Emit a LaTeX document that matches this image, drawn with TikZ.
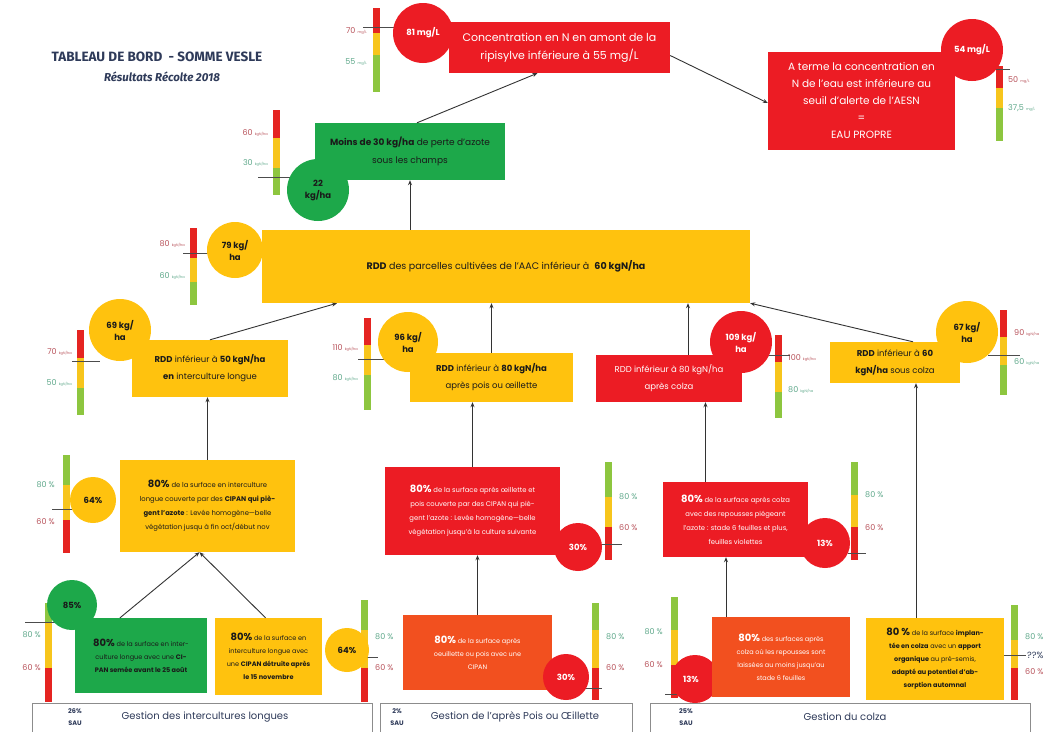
\documentclass[tikz,border=0pt]{standalone}
\usepackage{fontspec}
\setmainfont{Poppins}
\newfontfamily\titlefont{Fira Sans}
\usetikzlibrary{arrows.meta}
\definecolor{bRed}{HTML}{EC1C24}
\definecolor{bYel}{HTML}{FFC20E}
\definecolor{bGrn}{HTML}{1DA84A}
\definecolor{bOra}{HTML}{F2501F}
\definecolor{gR}{HTML}{E52421}
\definecolor{gY}{HTML}{F7C51C}
\definecolor{gG}{HTML}{8DC63F}
\definecolor{lR}{HTML}{B8525A}
\definecolor{lG}{HTML}{5EA88A}
\definecolor{navy}{HTML}{2E3A59}
\definecolor{ink}{HTML}{1A1A1A}
\newcommand\gaugeRYG[5]{\fill[gR] (#1,#2) rectangle (#1+7,#3); \fill[gY] (#1,#3) rectangle (#1+7,#4); \fill[gG] (#1,#4) rectangle (#1+7,#5);}
\newcommand\gaugeGYR[5]{\fill[gG] (#1,#2) rectangle (#1+7,#3); \fill[gY] (#1,#3) rectangle (#1+7,#4); \fill[gR] (#1,#4) rectangle (#1+7,#5);}
\newcommand\uu[1]{{\fontsize{3.5}{4}\selectfont #1}}
\newcommand\pc[1]{{\fontsize{10}{10}\selectfont\bfseries #1}}
\tikzset{
  bx/.style={rectangle, inner sep=2pt, align=center, text=ink},
  redbx/.style={bx, fill=bRed, text=white},
  orabx/.style={bx, fill=bOra, text=white},
  yelbx/.style={bx, fill=bYel},
  grnbx/.style={bx, fill=bGrn},
  circ/.style={circle, inner sep=0pt, align=center, text=ink, font=\fontsize{8.5}{12}\selectfont\bfseries},
  lblR/.style={inner sep=0pt, text=lR, font=\fontsize{8}{9}\selectfont},
  lblG/.style={inner sep=0pt, text=lG, font=\fontsize{8}{9}\selectfont},
  tick/.style={draw=black!70, line width=0.6pt},
  arr/.style={draw=black!80, line width=0.9pt, -{Stealth[length=5pt,width=4pt]}},
  sau/.style={draw=black!45, line width=0.8pt, fill=white},
  sautxt/.style={inner sep=0pt, text=navy, font=\fontsize{10}{11}\selectfont},
  sauno/.style={inner sep=0pt, text=navy, align=center, font=\fontsize{6.5}{12}\selectfont\bfseries}
}
\begin{document}
\begin{tikzpicture}[x=1pt,y=-1pt]
\useasboundingbox[fill=white] (0,0) rectangle (1063,731);
% title
\node[text=navy, font=\titlefont\fontsize{13.5}{15}\selectfont\bfseries] (title) at (157,57) {TABLEAU DE BORD \ - SOMME VESLE};
\node[text=navy, font=\titlefont\fontsize{11.5}{13}\selectfont\itshape\bfseries] (subtitle) at (162,77) {Résultats Récolte 2018};

% gauges
\gaugeRYG{373}{8}{33}{55}{92}
\node[lblR, anchor=east] (g0a) at (367,31) {70 \uu{mg/L}};
\node[lblG, anchor=east] (g0b) at (367,62) {55 \uu{mg/L}};
\draw[tick] (363,27) -- (400,27);

\gaugeRYG{996}{66}{88}{108}{141}
\node[lblR, anchor=west] (g1a) at (1008,80) {50 \uu{mg/L}};
\node[lblG, anchor=west] (g1b) at (1008,108) {37,5 \uu{mg/L}};
\draw[tick] (985,69) -- (1010,69);

\gaugeRYG{273}{110}{138}{168}{195}
\node[lblR, anchor=east] (g2a) at (268,133) {60 \uu{kgN/ha}};
\node[lblG, anchor=east] (g2b) at (268,163) {30 \uu{kgN/ha}};
\draw[tick] (258,177) -- (295,177);

\gaugeRYG{190}{228}{258}{282}{305}
\node[lblR, anchor=east] (g3a) at (185,244) {80 \uu{kgN/ha}};
\node[lblG, anchor=east] (g3b) at (185,276) {60 \uu{kgN/ha}};
\draw[tick] (183,253) -- (212,253);

\gaugeRYG{77}{330}{358}{388}{415}
\node[lblR, anchor=east] (g4a) at (72,352) {70 \uu{kgN/ha}};
\node[lblG, anchor=east] (g4b) at (72,383) {50 \uu{kgN/ha}};
\draw[tick] (72,361) -- (100,361);

\gaugeRYG{364}{318}{345}{375}{410}
\node[lblR, anchor=east] (g5a) at (358,348) {110 \uu{kgN/ha}};
\node[lblG, anchor=east] (g5b) at (358,378) {80 \uu{kgN/ha}};
\draw[tick] (358,359) -- (385,359);

\gaugeRYG{775}{335}{362}{392}{418}
\node[lblR, anchor=west] (g6a) at (788,358) {100 \uu{kgN/ha}};
\node[lblG, anchor=west] (g6b) at (788,390) {80 \uu{kgN/ha}};
\draw[tick] (765,355) -- (790,355);

\gaugeRYG{1000}{310}{337}{365}{395}
\node[lblR, anchor=west] (g7a) at (1014,333) {90 \uu{kgN/ha}};
\node[lblG, anchor=west] (g7b) at (1014,362) {60 \uu{kgN/ha}};
\draw[tick] (988,355) -- (1020,355);

\gaugeGYR{63}{455}{485}{520}{553}
\node[lblG, anchor=east] (g8a) at (55,485) {80 \%};
\node[lblR, anchor=east] (g8b) at (55,522) {60 \%};
\draw[tick] (52,509) -- (80,509);

\gaugeGYR{605}{462}{497}{527}{560}
\node[lblG, anchor=west] (g9a) at (619,497) {80 \%};
\node[lblR, anchor=west] (g9b) at (619,528) {60 \%};
\draw[tick] (595,544) -- (622,544);

\gaugeGYR{851}{462}{495}{527}{560}
\node[lblG, anchor=west] (g10a) at (865,495) {80 \%};
\node[lblR, anchor=west] (g10b) at (865,528) {60 \%};
\draw[tick] (848,553) -- (866,553);

\gaugeGYR{45}{603}{623}{668}{702}
\node[lblG, anchor=east] (g11a) at (41,635) {80 \%};
\node[lblR, anchor=east] (g11b) at (41,668) {60 \%};
\draw[tick] (25,622) -- (58,622);

\gaugeGYR{361}{600}{630}{668}{702}
\node[lblG, anchor=west] (g12a) at (375,637) {80 \%};
\node[lblR, anchor=west] (g12b) at (375,668) {60 \%};
\draw[tick] (355,657) -- (378,657);

\gaugeGYR{592}{603}{630}{668}{700}
\node[lblG, anchor=west] (g13a) at (606,637) {80 \%};
\node[lblR, anchor=west] (g13b) at (606,668) {60 \%};
\draw[tick] (580,688) -- (602,688);

\gaugeGYR{671}{597}{630}{665}{698}
\node[lblG, anchor=east] (g14a) at (663,632) {80 \%};
\node[lblR, anchor=east] (g14b) at (663,665) {60 \%};
\draw[tick] (665,694) -- (680,694);

\gaugeGYR{1011}{605}{640}{668}{700}
\node[lblG, anchor=west] (g15a) at (1025,637) {80 \%};
\node[lblR, anchor=west] (g15b) at (1025,672) {60 \%};
\node[inner sep=0pt, text=navy, font=\fontsize{9}{10}\selectfont, anchor=west] (g15c) at (1027,655) {??\%};
\draw[tick] (1003,655) -- (1026,655);

% boxes
\node[redbx, minimum width=221, minimum height=51, font=\fontsize{11}{18}\selectfont] (top) at (559.5,47.5) {Concentration en N en amont de la\\ripisylve inférieure à 55 mg/L};
\node[redbx, minimum width=187, minimum height=98, font=\fontsize{10.5}{17}\selectfont] (right) at (861.5,101) {A terme la concentration en\\N de l’eau est inférieure au\\seuil d’alerte de l’AESN\\=\\EAU PROPRE};
\node[grnbx, minimum width=190, minimum height=57, font=\fontsize{9}{18}\selectfont] (green) at (410,151.5) {\textbf{Moins de 30 kg/ha} de perte d’azote\\sous les champs};
\node[yelbx, minimum width=488, minimum height=73, font=\fontsize{9.5}{12}\selectfont] (big) at (506,266.5) {\textbf{RDD} des parcelles cultivées de l’AAC inférieur à \ \textbf{60 kgN/ha}};
\node[yelbx, minimum width=156, minimum height=57, font=\fontsize{8.5}{17}\selectfont] (A) at (210,368.5) {\textbf{RDD} inférieur à \textbf{50 kgN/ha}\\\textbf{en} interculture longue};
\node[yelbx, minimum width=163, minimum height=49, font=\fontsize{8.5}{17}\selectfont] (B) at (491.5,377.5) {\textbf{RDD} inférieur à \textbf{80 kgN/ha}\\après pois ou œillette};
\node[redbx, minimum width=146, minimum height=47, font=\fontsize{8.5}{17}\selectfont] (C) at (669,378.5) {RDD inférieur à 80 kgN/ha\\après colza};
\node[yelbx, minimum width=130, minimum height=41, font=\fontsize{8.5}{17}\selectfont] (D) at (895,362.5) {\textbf{RDD} inférieur à \textbf{60}\\\textbf{kgN/ha} sous colza};

\node[yelbx, minimum width=175, minimum height=92, font=\fontsize{6.8}{14}\selectfont] (E) at (207.5,506) {\pc{80\%} de la surface en interculture\\longue couverte par des \textbf{CIPAN qui piè-}\\\textbf{gent l’azote} : Levée homogène—belle\\végétation jusqu à fin oct/début nov};
\node[redbx, minimum width=175, minimum height=88, font=\fontsize{6.8}{14}\selectfont] (F) at (472.5,511) {\pc{80\%} de la surface après œillette et\\pois couverte par des CIPAN qui piè-\\gent l’azote : Levée homogène—belle\\végétation jusqu’à la culture suivante};
\node[redbx, minimum width=145, minimum height=75, font=\fontsize{6.8}{14}\selectfont] (G) at (735.5,519.5) {\pc{80\%} de la surface après colza\\avec des repousses piégeant\\l’azote : stade 6 feuilles et plus,\\feuilles violettes};

\node[grnbx, minimum width=132, minimum height=75, font=\fontsize{6.5}{13}\selectfont] (H1) at (141,655.5) {\pc{80\%} de la surface en inter-\\culture longue avec une \textbf{CI-}\\\textbf{PAN semée avant le 25 août}};
\node[yelbx, minimum width=107, minimum height=77, font=\fontsize{6.5}{13}\selectfont] (H2) at (268.5,656.5) {\pc{80\%} de la surface en\\interculture longue avec\\une \textbf{CIPAN détruite après}\\\textbf{le 15 novembre}};
\node[orabx, minimum width=149, minimum height=75, font=\fontsize{6.5}{13}\selectfont] (I) at (477.5,652.5) {\pc{80\%} de la surface après\\oeuillette ou pois avec une\\CIPAN};
\node[circ, fill=bRed, minimum size=48, text=white] (c13b) at (695,679) {13\%\hspace*{8pt}};
\node[orabx, minimum width=138, minimum height=80, font=\fontsize{6.5}{13}\selectfont] (J) at (781,657) {\pc{80\%} des surfaces après\\colza où les repousses sont\\laissées au moins jusqu’au\\stade 6 feuilles};
\node[yelbx, minimum width=138, minimum height=82, font=\fontsize{6.5}{13}\selectfont] (K) at (935,659) {\pc{80 \%} de la surface \textbf{implan-}\\\textbf{tée en colza} avec un \textbf{apport}\\\textbf{organique} au pré-semis,\\\textbf{adapté au potentiel d’ab-}\\\textbf{sorption automnal}};

% circles
\node[circ, fill=bRed, minimum size=60, text=white] (c81) at (423,33) {81 mg/L};
\node[circ, fill=bRed, minimum size=62, text=white] (c54) at (972,50) {54 mg/L};
\node[circ, fill=bGrn, minimum size=62] (c22) at (318,190) {22\\kg/ha};
\node[circ, fill=bYel, minimum size=56] (c79) at (235,250) {79 kg/\\ha};
\node[circ, fill=bYel, minimum size=62] (c69) at (120,330) {69 kg/\\ha};
\node[circ, fill=bYel, minimum size=60] (c96) at (408,342) {96 kg/\\ha};
\node[circ, fill=bRed, minimum size=62, text=white] (c109) at (741,342) {109 kg/\\ha};
\node[circ, fill=bYel, minimum size=62] (c67) at (967,332) {67 kg/\\ha};
\node[circ, fill=bYel, minimum size=46] (c64a) at (93,500) {64\%};
\node[circ, fill=bRed, minimum size=48, text=white] (c30a) at (578,547) {30\%};
\node[circ, fill=bRed, minimum size=50, text=white] (c13a) at (825,543) {13\%};
\node[circ, fill=bGrn, minimum size=50] (c85) at (72,605) {85\%};
\node[circ, fill=bYel, minimum size=44] (c64b) at (347,650) {64\%};
\node[circ, fill=bRed, minimum size=46, text=white] (c30b) at (566,677) {30\%};

% bottom label boxes
\draw[sau] (32,703) rectangle (372,740);
\draw[sau] (380,703) rectangle (632,740);
\draw[sau] (650,703) rectangle (1030,740);
\node[sauno] (s1) at (75,717) {26\%\\SAU};
\node[sautxt] (t1) at (205,717) {Gestion des intercultures longues};
\node[sauno] (s2) at (397,717) {2\%\\SAU};
\node[sautxt] (t2) at (515,717) {Gestion de l’après Pois ou Œillette};
\node[sauno] (s3) at (686,717) {25\%\\SAU};
\node[sautxt] (t3) at (845,717) {Gestion du colza};

% arrow end points
\coordinate (pC) at ([xshift=19pt]C.north);
\coordinate (pG) at ([xshift=-30pt]G.north);
\coordinate (pJ) at ([xshift=-55pt]J.north);
\coordinate (pK) at ([xshift=-19pt]K.north);
% arrows
\draw[arr] ([xshift=7pt]green.north) -- ([xshift=-22pt]top.south);
\draw[arr] ([yshift=-8pt]top.east) -- ([yshift=-2pt]right.west);
\draw[arr] (big.north -| green.south) -- (green.south);
\draw[arr] (A.north) -- ([xshift=-169pt]big.south);
\draw[arr] (B.north) -- (big.south -| B.north);
\draw[arr] (pC) -- (big.south -| pC);
\draw[arr] ([xshift=18pt]D.north) -- (big.south east);
\draw[arr] (E.north) -- (A.south -| E.north);
\draw[arr] (F.north) -- (B.south -| F.north);
\draw[arr] (pG) -- (C.south -| pG);
\draw[arr] ([xshift=-21pt]H1.north) -- ([xshift=-8pt]E.south);
\draw[arr] ([xshift=-3pt]H2.north) -- ([xshift=-8pt]E.south);
\draw[arr] (I.north) -- (F.south -| I.north);
\draw[arr] (pJ) -- (G.south -| pJ);
\draw[arr] (pK) -- (D.south -| pK);
\end{tikzpicture}
\end{document}
